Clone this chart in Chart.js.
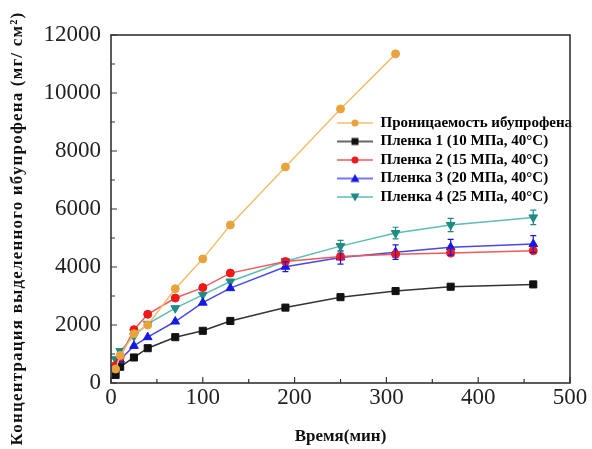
<!DOCTYPE html>
<html>
<head>
<meta charset="utf-8">
<script src="https://cdn.jsdelivr.net/npm/chart.js@4.4.0/dist/chart.umd.min.js"></script>
<style>
  html, body { margin: 0; padding: 0; background: #fff; }
  #wrap { width: 592px; height: 449px; }
</style>
</head>
<body>
<div id="wrap"><canvas id="chart" width="592" height="449"></canvas></div>
<script>
// time, min
const times = [5, 10, 25, 40, 70, 100, 130, 190, 250, 310, 370, 460];
// concentration, mg/cm2
const ibuprofen = [480, 950, 1700, 2000, 3250, 4280, 5450, 7450, 9450, 11350];
const film1 = [280, 560, 880, 1200, 1580, 1800, 2140, 2600, 2960, 3170, 3320, 3400];
const film2 = [600, 900, 1840, 2370, 2930, 3290, 3790, 4190, 4360, 4440, 4480, 4560];
const film3 = [500, 800, 1280, 1580, 2120, 2770, 3270, 4010, 4330, 4510, 4680, 4790];
const film4 = [820, 1100, 1620, 2040, 2580, 3040, 3500, 4200, 4720, 5170, 5450, 5710];
const film3Err = [0, 0, 0, 0, 0, 0, 0, 170, 230, 250, 270, 290];
const film4Err = [0, 0, 0, 0, 0, 0, 0, 0, 200, 200, 230, 250];

const seriesNames = [
  'Проницаемость ибупрофена',
  'Пленка 1 (10 МПа, 40°C)',
  'Пленка 2 (15 МПа, 40°C)',
  'Пленка 3 (20 МПа, 40°C)',
  'Пленка 4 (25 МПа, 40°C)'
];
const xTicks = [0, 100, 200, 300, 400, 500];
const yTicks = [0, 2000, 4000, 6000, 8000, 10000, 12000];
const xTitle = 'Время(мин)';
const yTitle = 'Концентрация выделенного ибупрофена (мг/ см²)';

const FONT = "'Liberation Serif', 'Times New Roman', serif";

function pts(vals) {
  return vals.map((v, i) => ({ x: times[i], y: v }));
}

// small picture for the legend: line with marker in the middle
function swatch(lineColor, color, style) {
  const c = document.createElement('canvas');
  c.width = 36; c.height = 12;
  const g = c.getContext('2d');
  g.strokeStyle = lineColor; g.lineWidth = 1.5;
  g.beginPath(); g.moveTo(0, 6); g.lineTo(36, 6); g.stroke();
  g.fillStyle = color;
  g.beginPath();
  if (style === 'circle') g.arc(18, 6, 3.5, 0, Math.PI * 2);
  else if (style === 'rect') g.rect(14.5, 2.5, 7, 7);
  else if (style === 'up') { g.moveTo(18, 1.5); g.lineTo(22.5, 9.5); g.lineTo(13.5, 9.5); g.closePath(); }
  else { g.moveTo(18, 10.5); g.lineTo(22.5, 2.5); g.lineTo(13.5, 2.5); g.closePath(); }
  g.fill();
  return c;
}

const datasets = [
  { label: seriesNames[0], data: pts(ibuprofen), borderColor: '#F2BE6E', backgroundColor: '#E8A33D',
    pointBorderColor: '#E8A33D', pointStyle: 'circle', pointRadius: 4, swatch: swatch('#F2BE6E', '#E8A33D', 'circle') },
  { label: seriesNames[1], data: pts(film1), borderColor: '#333333', backgroundColor: '#111111',
    pointBorderColor: '#111111', pointStyle: 'rect', pointRadius: 5, swatch: swatch('#333333', '#111111', 'rect') },
  { label: seriesNames[2], data: pts(film2), borderColor: '#F05A5A', backgroundColor: '#F01818',
    pointBorderColor: '#F01818', pointStyle: 'circle', pointRadius: 4, swatch: swatch('#F05A5A', '#F01818', 'circle') },
  { label: seriesNames[3], data: pts(film3), borderColor: '#4848E8', backgroundColor: '#1818E6',
    pointBorderColor: '#1818E6', pointStyle: 'triangle', pointRadius: 5, errors: film3Err, swatch: swatch('#4848E8', '#1818E6', 'up') },
  { label: seriesNames[4], data: pts(film4), borderColor: '#5CBDB3', backgroundColor: '#1E8C84',
    pointBorderColor: '#1E8C84', pointStyle: 'triangle', pointRotation: 180, pointRadius: 5, errors: film4Err, swatch: swatch('#5CBDB3', '#1E8C84', 'down') }
];
datasets.forEach(d => { d.borderWidth = 1.5; d.pointBorderWidth = 1; d.tension = 0; d.fill = false; });

const framePlugin = {
  id: 'frame',
  afterUpdate(chart) {
    // move the legend inside the plot, right of the orange line
    const lg = chart.legend;
    const w = lg.width, h = lg.height;
    lg.left = 333.5; lg.top = 112;
    lg.right = lg.left + w; lg.bottom = lg.top + h;
  },
  afterDatasetsDraw(chart) {
    const { ctx, chartArea: a, scales: { x, y } } = chart;
    ctx.save();
    // error bars
    chart.data.datasets.forEach(ds => {
      if (!ds.errors) return;
      ctx.strokeStyle = ds.backgroundColor;
      ctx.lineWidth = 1.2;
      ds.data.forEach((p, i) => {
        const e = ds.errors[i];
        if (!e) return;
        const px = x.getPixelForValue(p.x);
        const y1 = y.getPixelForValue(p.y - e), y2 = y.getPixelForValue(p.y + e);
        ctx.beginPath();
        ctx.moveTo(px, y1); ctx.lineTo(px, y2);
        ctx.moveTo(px - 3, y1); ctx.lineTo(px + 3, y1);
        ctx.moveTo(px - 3, y2); ctx.lineTo(px + 3, y2);
        ctx.stroke();
      });
    });
    // box and inner ticks
    ctx.strokeStyle = '#333';
    ctx.lineWidth = 1.6;
    ctx.strokeRect(a.left, a.top, a.right - a.left, a.bottom - a.top);
    ctx.lineWidth = 1.2;
    ctx.beginPath();
    for (let v = 0; v <= 500; v += 50) {
      const px = x.getPixelForValue(v);
      ctx.moveTo(px, a.bottom); ctx.lineTo(px, a.bottom - (v % 100 === 0 ? 6 : 4));
    }
    for (let v = 0; v <= 12000; v += 1000) {
      const py = y.getPixelForValue(v);
      ctx.moveTo(a.left, py); ctx.lineTo(a.left + (v % 2000 === 0 ? 6 : 4), py);
    }
    ctx.stroke();
    ctx.restore();
  },
  afterDraw(chart) {
    // y title drawn here: it runs longer than the plot and is letter-spaced
    const { ctx, chartArea: a } = chart;
    ctx.save();
    ctx.translate(18, 228.5);
    ctx.rotate(-Math.PI / 2);
    ctx.font = 'bold 17px ' + FONT;
    if ('letterSpacing' in ctx) ctx.letterSpacing = '1.2px';
    ctx.fillStyle = '#111';
    ctx.textAlign = 'center';
    ctx.textBaseline = 'middle';
    ctx.fillText(yTitle, 0, 0);
    ctx.restore();
  }
};

new Chart(document.getElementById('chart'), {
  type: 'line',
  data: { datasets: datasets },
  options: {
    responsive: false,
    animation: false,
    devicePixelRatio: 1,
    layout: { padding: { left: 4, right: 22, top: 35, bottom: 2 } },
    plugins: {
      tooltip: { enabled: false },
      legend: {
        position: 'chartArea',
        align: 'start',
        labels: {
          usePointStyle: true,
          pointStyleWidth: 36,
          padding: 3.5,
          color: '#111',
          font: { family: FONT, size: 15, weight: 'bold' },
          generateLabels(chart) {
            return chart.data.datasets.map((ds, i) => ({
              text: ds.label,
              fillStyle: ds.backgroundColor,
              strokeStyle: ds.borderColor,
              lineWidth: 0,
              pointStyle: ds.swatch,
              hidden: false,
              datasetIndex: i
            }));
          }
        }
      }
    },
    scales: {
      x: {
        type: 'linear', min: 0, max: 500,
        grid: { display: false, drawTicks: false },
        border: { display: false },
        afterFit(s) { s.height = 64; },
        afterBuildTicks(s) { s.ticks = xTicks.map(v => ({ value: v })); },
        ticks: { padding: 1, color: '#222', font: { family: FONT, size: 23 }, callback: v => String(v) },
        title: { display: true, text: xTitle, color: '#111', padding: { top: 0, bottom: 0 },
          font: { family: FONT, size: 17, weight: 'bold' } }
      },
      y: {
        type: 'linear', min: 0, max: 12000,
        grid: { display: false, drawTicks: false },
        border: { display: false },
        afterFit(s) { s.width = 107; },
        afterBuildTicks(s) { s.ticks = yTicks.map(v => ({ value: v })); },
        ticks: { padding: 10, color: '#222', font: { family: FONT, size: 23 }, callback: v => String(v) },
        title: { display: false }
      }
    }
  },
  plugins: [framePlugin]
});
</script>
</body>
</html>
